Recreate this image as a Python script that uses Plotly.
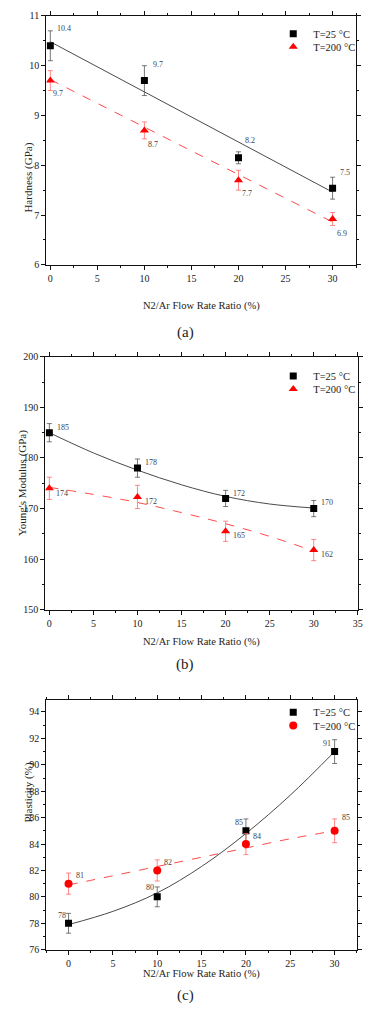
import plotly.graph_objects as go

# ---------------- data ----------------
ratio = [0, 10, 20, 30]

# (a) Hardness (GPa)
hard_25 = [10.4, 9.7, 8.15, 7.54]
hard_25_err = [0.3, 0.3, 0.12, 0.22]
hard_25_lbl = ["10.4", "9.7", "8.2", "7.5"]
hard_200 = [9.7, 8.7, 7.7, 6.92]
hard_200_err = [0.2, 0.17, 0.2, 0.13]
hard_200_lbl = ["9.7", "8.7", "7.7", "6.9"]
hard_fit_x = [0, 30]
hard_25_fit = [10.48, 7.46]
hard_200_fit = [9.72, 6.86]

# (b) Young's modulus (GPa)
mod_25 = [185, 178, 172, 170]
mod_25_err = [1.8, 1.8, 1.6, 1.6]
mod_25_lbl = ["185", "178", "172", "170"]
mod_200 = [174, 172.3, 165.5, 161.8]
mod_200_err = [2.2, 2.3, 2.0, 2.1]
mod_200_lbl = ["174", "172", "165", "162"]
mod_fit_x = [0, 5, 10, 15, 20, 25, 30]
mod_25_fit = [185, 181, 177.6, 174.7, 172.4, 170.9, 170.1]
mod_200_fit = [174.2, 172.8, 171.2, 169.2, 167, 164.5, 161.6]

# (c) Plasticity (%)
pla_25 = [78, 80, 85, 91]
pla_25_err = [0.75, 0.75, 0.9, 0.9]
pla_25_lbl = ["78", "80", "85", "91"]
pla_200 = [81, 82, 84, 85]
pla_200_err = [0.8, 0.8, 0.8, 0.9]
pla_200_lbl = ["81", "82", "84", "85"]
pla_fit_x = [0, 5, 10, 15, 20, 25, 30]
pla_25_fit = [77.9, 78.9, 80.3, 82.3, 84.8, 87.7, 91.0]
pla_200_fit = [80.9, 81.6, 82.3, 83.0, 83.7, 84.4, 85.0]

series_names = ["T=25 \u00b0C", "T=200 \u00b0C"]

# label offsets in pixels (dx, dy)
off_a25 = [(14, 17), (14, 16), (12, 17), (12, 16)]
off_a200 = [(8, -13), (9, -14), (9, -13), (9, -14)]
off_b25 = [(14, 5), (14, 6), (13, 5), (13, 6)]
off_b200 = [(13, -5), (14, -5), (13, -4), (13, -4)]
off_c25 = [(-7, 8), (-7, 9), (-7, 8), (-8, 8)]
off_c200 = [(11, 8), (11, 8), (11, 8), (11, 13)]

W, H = 369, 1018
FONT = "Liberation Serif, Times New Roman, serif"
BLACK = "#000000"
RED = "#ff0000"
TXT = "#222222"

fig = go.Figure()
annotations = []


def px_x(p):
    return p / W


def px_y(p):
    return 1 - p / H


panels = [
    dict(idx=1, top=11, bot=262.7, left=47, right=361,
         xr=[-0.42, 32.5], yr=[6, 11], ydt=1, ymin=0.5,
         ytitle="Hardness (GPa)", ytx=20, label="(a)", xt_y=296, lab_y=320,
         s25=hard_25, e25=hard_25_err, l25=hard_25_lbl, o25=off_a25,
         s200=hard_200, e200=hard_200_err, l200=hard_200_lbl, o200=off_a200,
         fx=hard_fit_x, f25=hard_25_fit, f200=hard_200_fit,
         sym200="triangle-up", leg_y=(29, 42.3)),
    dict(idx=2, top=355.7, bot=611.3, left=46, right=362.7,
         xr=[-0.45, 35], yr=[150, 200], ydt=10, ymin=5,
         ytitle="Young's Modulus (GPa)", ytx=13.5, label="(b)", xt_y=644, lab_y=667,
         s25=mod_25, e25=mod_25_err, l25=mod_25_lbl, o25=off_b25,
         s200=mod_200, e200=mod_200_err, l200=mod_200_lbl, o200=off_b200,
         fx=mod_fit_x, f25=mod_25_fit, f200=mod_200_fit,
         sym200="triangle-up", leg_y=(375, 388.3)),
    dict(idx=3, top=702.7, bot=955, left=47, right=361.7,
         xr=[-2.5, 32.5], yr=[76, 94.9], ydt=2, ymin=1,
         ytitle="Plasticity (%)", ytx=20, label="(c)", xt_y=987.5, lab_y=1012,
         s25=pla_25, e25=pla_25_err, l25=pla_25_lbl, o25=off_c25,
         s200=pla_200, e200=pla_200_err, l200=pla_200_lbl, o200=off_c200,
         fx=pla_fit_x, f25=pla_25_fit, f200=pla_200_fit,
         sym200="circle", leg_y=(715, 728.3)),
]

layout_upd = {}
for p in panels:
    i = p["idx"]
    xa = "x" if i == 1 else f"x{i}"
    ya = "y" if i == 1 else f"y{i}"
    leg_a = "legend" if i == 1 else f"legend{2 * i - 1}"
    leg_b = f"legend{2 * i}"

    # fit lines
    fig.add_trace(go.Scatter(x=p["fx"], y=p["f25"], mode="lines",
                             line=dict(color="#4a4a4a", width=1, shape="spline"),
                             showlegend=False, xaxis=xa, yaxis=ya, hoverinfo="skip"))
    fig.add_trace(go.Scatter(x=p["fx"], y=p["f200"], mode="lines",
                             line=dict(color="#ff4a4a", width=1, dash="dash", shape="spline"),
                             showlegend=False, xaxis=xa, yaxis=ya, hoverinfo="skip"))
    # data
    fig.add_trace(go.Scatter(x=ratio, y=p["s25"], mode="markers", name=series_names[0],
                             marker=dict(symbol="square", size=7, color=BLACK),
                             error_y=dict(type="data", array=p["e25"], color="#555555",
                                          thickness=0.8, width=2.5),
                             xaxis=xa, yaxis=ya, legend=leg_a))
    fig.add_trace(go.Scatter(x=ratio, y=p["s200"], mode="markers", name=series_names[1],
                             marker=dict(symbol=p["sym200"], size=8, color=RED),
                             error_y=dict(type="data", array=p["e200"], color="#ff6a6a",
                                          thickness=0.8, width=2.5),
                             xaxis=xa, yaxis=ya, legend=leg_b))

    for xv, yv, t, (dx, dy) in zip(ratio, p["s25"], p["l25"], p["o25"]):
        annotations.append(dict(x=xv, y=yv, xref=xa, yref=ya, text=t, showarrow=False,
                                xshift=dx, yshift=dy,
                                font=dict(family=FONT, size=8, color="#444444")))
    for xv, yv, t, (dx, dy) in zip(ratio, p["s200"], p["l200"], p["o200"]):
        annotations.append(dict(x=xv, y=yv, xref=xa, yref=ya, text=t, showarrow=False,
                                xshift=dx, yshift=dy,
                                font=dict(family=FONT, size=8, color="#444444")))

    axis_common = dict(showline=True, linecolor="#111111", linewidth=1.2, mirror="ticks",
                       ticks="outside", ticklen=4, tickwidth=1, tickcolor="#111111",
                       showgrid=False, zeroline=False,
                       tickfont=dict(family=FONT, size=10, color=TXT))
    xkey = "xaxis" if i == 1 else f"xaxis{i}"
    ykey = "yaxis" if i == 1 else f"yaxis{i}"
    layout_upd[xkey] = dict(domain=[px_x(p["left"]), px_x(p["right"])], range=p["xr"],
                            anchor=ya, tickmode="linear", tick0=0, dtick=5,
                            minor=dict(dtick=2.5, ticks="outside", ticklen=2,
                                       tickcolor="#111111"),
                            **axis_common)
    layout_upd[ykey] = dict(domain=[px_y(p["bot"]), px_y(p["top"])], range=p["yr"],
                            anchor=xa, tickmode="linear", tick0=p["yr"][0], dtick=p["ydt"],
                            minor=dict(dtick=p["ymin"], ticks="outside", ticklen=2,
                                       tickcolor="#111111"),
                            **axis_common)
    for lg, ly in zip((leg_a, leg_b), p["leg_y"]):
        layout_upd[lg] = dict(x=px_x(277), y=px_y(ly), xanchor="left", yanchor="middle",
                              bgcolor="rgba(0,0,0,0)",
                              font=dict(family=FONT, size=10.5, color=TXT),
                              itemsizing="trace", borderwidth=0)

    # axis titles & panel label
    annotations.append(dict(x=px_x(204), y=px_y(p["xt_y"]),
                            xref="paper", yref="paper", text="N2/Ar Flow Rate Ratio (%)",
                            showarrow=False, font=dict(family=FONT, size=10.5, color=TXT)))
    annotations.append(dict(x=px_x(p["ytx"]), y=px_y((p["top"] + p["bot"]) / 2),
                            xref="paper", yref="paper", text=p["ytitle"], textangle=-90,
                            showarrow=False, font=dict(family=FONT, size=11, color=TXT)))
    annotations.append(dict(x=px_x(188), y=px_y(p["lab_y"]), xref="paper", yref="paper",
                            text=p["label"], showarrow=False,
                            font=dict(family=FONT, size=15, color=TXT)))

fig.update_layout(**layout_upd)
fig.update_layout(width=W, height=H, margin=dict(l=0, r=0, t=0, b=0),
                  paper_bgcolor="white", plot_bgcolor="white",
                  annotations=annotations, showlegend=True)

fig.write_html("out.html")
